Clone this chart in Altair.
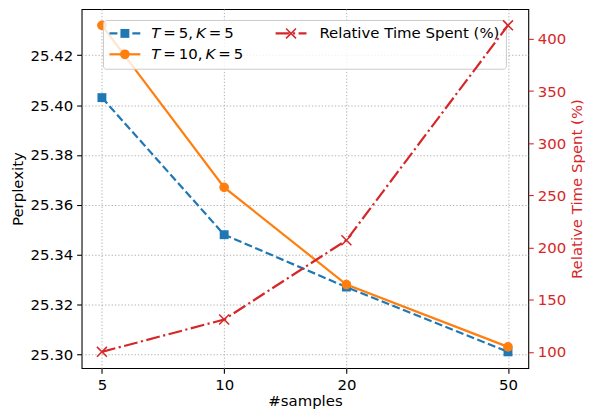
import altair as alt
import numpy as np
import pandas as pd

# ---------------- data ----------------
samples = [5, 10, 20, 50]
ppl_t5_k5 = [25.403, 25.348, 25.327, 25.301]
ppl_t10_k5 = [25.432, 25.367, 25.328, 25.303]
rel_time = [100, 131, 207, 413]

x_ticks = [5, 10, 20, 50]
ppl_ticks = [25.30, 25.32, 25.34, 25.36, 25.38, 25.40, 25.42]
time_ticks = [100, 150, 200, 250, 300, 350, 400]

# ---------------- style ----------------
BLUE = "#1f77b4"
ORANGE = "#ff7f0e"
RED = "#d62728"
FONT = "DejaVu Sans"
FS = 15
LW = 2.2
DASH = [8, 3.5]
DASHDOT = [13.9, 3.5, 2.2, 3.5]
X_PATH = "M-1,-1L1,1M-1,1L1,-1"


def pad_lin(vals, m=0.05):
    lo, hi = min(vals), max(vals)
    r = hi - lo
    return [lo - m * r, hi + m * r]


def pad_log(vals, m=0.05):
    lo, hi = np.log10(min(vals)), np.log10(max(vals))
    r = hi - lo
    return [float(10 ** (lo - m * r)), float(10 ** (hi + m * r))]


grid_kw = dict(grid=True, gridColor="#b0b0b0", gridDash=[1.3, 2], gridWidth=1)
x_scale = alt.Scale(type="log", domain=pad_log(samples), nice=False)
x_axis = alt.Axis(values=x_ticks, format="d", title="#samples", labelFlush=False,
                  labelOverlap=False, titlePadding=2, **grid_kw)
ppl_scale = alt.Scale(domain=pad_lin(ppl_t5_k5 + ppl_t10_k5), nice=False, zero=False)
time_scale = alt.Scale(domain=pad_lin(rel_time), nice=False, zero=False)
left_axis = alt.Axis(values=ppl_ticks, format=".2f", title="Perplexity", labelFlush=False,
                     labelOverlap=False, titlePadding=4, **grid_kw)
right_axis = alt.Axis(orient="right", values=time_ticks, format="d",
                      title="Relative Time Spent (%)", grid=False, tickColor=RED,
                      labelColor=RED, titleColor=RED, titleAngle=270, titleBaseline="top",
                      labelFlush=False, labelOverlap=False, titlePadding=4)


def series(values, color, dash, shape, size, y_scale, y_axis, filled=True, sw=None):
    df = pd.DataFrame({"samples": samples, "value": values})
    base = alt.Chart(df).encode(
        x=alt.X("samples:Q", scale=x_scale, axis=x_axis),
        y=alt.Y("value:Q", scale=y_scale, axis=y_axis),
    )
    lkw = dict(color=color, strokeWidth=LW)
    if dash:
        lkw["strokeDash"] = dash
    line = base.mark_line(**lkw)
    pkw = dict(shape=shape, size=size, filled=filled, color=color, opacity=1)
    if sw:
        pkw["strokeWidth"] = sw
    pts = base.mark_point(**pkw)
    return [line, pts]


left_group = alt.layer(
    *series(ppl_t5_k5, BLUE, DASH, "square", 80, ppl_scale, left_axis),
    *series(ppl_t10_k5, ORANGE, None, "circle", 95, ppl_scale, left_axis),
)
right_group = alt.layer(
    *series(rel_time, RED, DASHDOT, X_PATH, 100, time_scale, right_axis, filled=False, sw=1.5),
)

# ---------------- legend (drawn by hand, matplotlib style) ----------------
one = pd.DataFrame({"k": [0]})


def vtext(txt, x, y, italic=False):
    return alt.Chart(one).mark_text(
        text=txt, align="left", baseline="middle", font=FONT, fontSize=FS,
        fontStyle="italic" if italic else "normal", color="black",
    ).encode(x=alt.value(x), y=alt.value(y))


def math_label(segs, x0, y, s=0.2):
    out = []
    x = x0
    for txt, italic, w_em in segs:
        out.append(vtext(txt, x, y, italic))
        x += (w_em + s) * FS
    return out


def legend_line(x1, x2, y, color, dash):
    kw = dict(color=color, strokeWidth=LW)
    if dash:
        kw["strokeDash"] = dash
    return alt.Chart(one).mark_rule(**kw).encode(
        x=alt.value(x1), x2=alt.value(x2), y=alt.value(y))


def legend_marker(x, y, color, shape, size, filled=True, sw=None):
    kw = dict(shape=shape, size=size, filled=filled, color=color, opacity=1)
    if sw:
        kw["strokeWidth"] = sw
    return alt.Chart(one).mark_point(**kw).encode(x=alt.value(x), y=alt.value(y))


R1, R2 = 24.5, 45.5
legend_layers = [
    alt.Chart(one).mark_rect(fill="white", fillOpacity=0.8, stroke="#cccccc",
                             strokeWidth=1, cornerRadius=3).encode(
        x=alt.value(22), x2=alt.value(427), y=alt.value(11.5), y2=alt.value(60.5)),
    legend_line(28, 59, R1, BLUE, DASH),
    legend_marker(43.5, R1, BLUE, "square", 80),
    legend_line(28, 59, R2, ORANGE, None),
    legend_marker(43.5, R2, ORANGE, "circle", 95),
    legend_line(195, 226, R1, RED, DASHDOT),
    legend_marker(210.5, R1, RED, X_PATH, 100, filled=False, sw=1.5),
    *math_label([("T", True, 0.611), ("=", False, 0.838), ("5,", False, 0.954),
                 ("K", True, 0.656), ("=", False, 0.838), ("5", False, 0.636)], 70, R1),
    *math_label([("T", True, 0.611), ("=", False, 0.838), ("10,", False, 1.59),
                 ("K", True, 0.656), ("=", False, 0.838), ("5", False, 0.636)], 70, R2),
    vtext("Relative Time Spent (%)", 239, R1),
]

chart = (
    alt.layer(left_group, *legend_layers, right_group)
    .resolve_scale(y="independent")
    .properties(
        width=449,
        height=361,
        padding={"left": 74, "top": 0, "right": 59, "bottom": 41},
        autosize=alt.AutoSizeParams(type="none"),
    )
    .configure_view(stroke="black", strokeWidth=1.1)
    .configure_axis(
        labelFont=FONT, titleFont=FONT, labelFontSize=FS, titleFontSize=FS,
        titleFontWeight="normal", labelColor="black", titleColor="black",
        tickColor="black", tickSize=5, tickWidth=1.1, labelPadding=4, domain=False,
    )
)

chart.save("out.html", embed_options={"renderer": "svg", "actions": False})
